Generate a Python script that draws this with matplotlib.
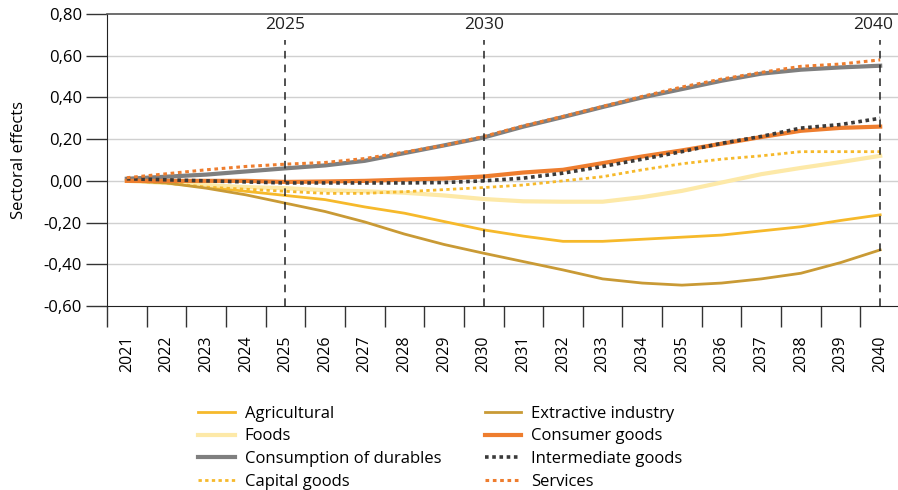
import matplotlib.pyplot as plt
from matplotlib.ticker import FuncFormatter, FixedLocator

years = [str(y) for y in range(2021, 2041)]

agricultural = [0.00, -0.01, -0.03, -0.05, -0.07, -0.09, -0.125, -0.155, -0.195, -0.235,
                -0.265, -0.29, -0.29, -0.28, -0.27, -0.26, -0.24, -0.22, -0.19, -0.163]
extractive = [0.00, -0.01, -0.035, -0.067, -0.107, -0.147, -0.197, -0.255, -0.305, -0.347,
              -0.387, -0.427, -0.47, -0.49, -0.50, -0.49, -0.47, -0.443, -0.392, -0.331]
foods = [0.00, -0.01, -0.02, -0.03, -0.035, -0.045, -0.05, -0.057, -0.07, -0.087,
         -0.098, -0.10, -0.10, -0.078, -0.048, -0.008, 0.032, 0.062, 0.09, 0.12]
consumer = [0.00, 0.00, 0.00, 0.00, -0.005, -0.003, 0.00, 0.006, 0.011, 0.021,
            0.04, 0.053, 0.085, 0.117, 0.146, 0.178, 0.21, 0.24, 0.254, 0.26]
durables = [0.01, 0.02, 0.03, 0.045, 0.06, 0.074, 0.096, 0.133, 0.17, 0.208,
            0.26, 0.306, 0.354, 0.40, 0.44, 0.48, 0.514, 0.533, 0.544, 0.552]
intermediate = [0.01, 0.005, 0.00, -0.005, -0.01, -0.01, -0.01, -0.01, -0.008, 0.00,
                0.013, 0.037, 0.069, 0.104, 0.14, 0.18, 0.213, 0.253, 0.27, 0.30]
capital = [0.00, -0.01, -0.03, -0.04, -0.05, -0.06, -0.06, -0.052, -0.042, -0.032,
           -0.02, 0.00, 0.02, 0.053, 0.082, 0.104, 0.12, 0.14, 0.14, 0.14]
services = [0.015, 0.034, 0.053, 0.069, 0.08, 0.088, 0.107, 0.138, 0.17, 0.213,
            0.264, 0.309, 0.357, 0.405, 0.45, 0.488, 0.52, 0.549, 0.56, 0.58]

markers = ['2025', '2030', '2040']

plt.rcParams['font.family'] = ['Open Sans', 'DejaVu Sans']

fig = plt.figure(figsize=(8.98, 4.90), dpi=100)
ax = fig.add_axes([107 / 898, 1 - 306 / 490, 793 / 898, 292 / 490])

x = list(range(len(years)))
yellow = '#F6B92B'
gold = '#C99A35'
pale = '#FDE9A8'
orange = '#EE7D2E'
grey = '#7F7F7F'
dark = '#3A3A3A'

h_agri, = ax.plot(x, agricultural, color=yellow, lw=2, label='Agricultural')
h_foods, = ax.plot(x, foods, color=pale, lw=3, label='Foods')
h_dur, = ax.plot(x, durables, color=grey, lw=3, label='Consumption of durables')
h_cap, = ax.plot(x, capital, color=yellow, lw=2, ls=(0, (1.2, 1.2)), label='Capital goods')
h_ext, = ax.plot(x, extractive, color=gold, lw=2, label='Extractive industry')
h_con, = ax.plot(x, consumer, color=orange, lw=3, label='Consumer goods')
h_int, = ax.plot(x, intermediate, color=dark, lw=2.6, ls=(0, (1, 1)), label='Intermediate goods')
h_ser, = ax.plot(x, services, color=orange, lw=2.2, ls=(0, (1.2, 1.2)), label='Services')

for m in markers:
    i = years.index(m)
    ax.plot([i, i], [-0.6, 0.675], color='#222222', lw=1.1, ls=(0, (5, 4)))
    # last label sits against the right edge, so pull it inwards
    tx = i - 0.17 if i == len(years) - 1 else i
    ax.text(tx, 0.745, m, ha='center', va='center', fontsize=12.5, color='#222222')

ax.set_xlim(-0.5, len(years) - 0.5)
ax.set_ylim(-0.6, 0.8)
ax.set_yticks([-0.6, -0.4, -0.2, 0.0, 0.2, 0.4, 0.6, 0.8])
ax.yaxis.set_major_formatter(FuncFormatter(lambda v, p: f'{v:.2f}'.replace('.', ',')))
ax.tick_params(axis='y', length=15, width=1, color='#333333', labelsize=12, pad=3)
for v in [-0.4, -0.2, 0.0, 0.2, 0.4, 0.6]:
    ax.axhline(v, color='#D0D0D0', lw=1, zorder=0)

ax.set_xticks(x)
ax.set_xticklabels(years, rotation=90, fontsize=11.5)
ax.xaxis.set_minor_locator(FixedLocator([i - 0.5 for i in range(len(years) + 1)]))
ax.tick_params(axis='x', which='major', length=0, pad=21)
ax.tick_params(axis='x', which='minor', length=15, width=1, color='#333333')

ax.set_ylabel('Sectoral effects', fontsize=12, labelpad=12)

ax.spines['right'].set_visible(False)
ax.spines['top'].set_color('#555555')
ax.spines['top'].set_linewidth(1.2)
ax.spines['left'].set_color('#222222')
ax.spines['bottom'].set_color('#222222')

handles = [h_agri, h_foods, h_dur, h_cap, h_ext, h_con, h_int, h_ser]
fig.legend(handles=handles, labels=[h.get_label() for h in handles], ncol=2,
           loc='lower left', bbox_to_anchor=(183 / 898, -0.03), frameon=False,
           fontsize=12, handlelength=2.2, handletextpad=0.6, columnspacing=2.6,
           labelspacing=0.4)

fig.savefig('out.png', dpi=100)
